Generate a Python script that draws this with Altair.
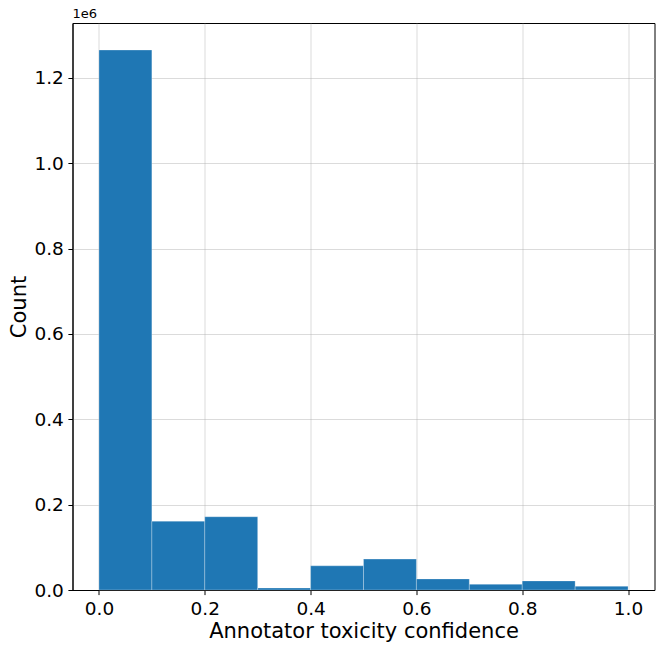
import altair as alt
import pandas as pd

bin_start = [0.0, 0.1, 0.2, 0.3, 0.4, 0.5, 0.6, 0.7, 0.8, 0.9]
bin_end = [0.1, 0.2, 0.3, 0.4, 0.5, 0.6, 0.7, 0.8, 0.9, 1.0]
counts = [1265600, 161400, 171700, 4700, 56700, 72400, 26000, 13400, 21300, 8700]
x_ticks = [0.0, 0.2, 0.4, 0.6, 0.8, 1.0]
y_ticks = [0, 200000, 400000, 600000, 800000, 1000000, 1200000]

df = pd.DataFrame({"start": bin_start, "end": bin_end, "count": counts})

ymax = max(counts) * 1.05

chart = alt.Chart(df).mark_bar(
    color="#1f77b4", stroke="white", strokeOpacity=0.35, strokeWidth=0.8
).encode(
    x=alt.X("start:Q",
            scale=alt.Scale(domain=[-0.05, 1.05], nice=False, zero=False),
            axis=alt.Axis(values=x_ticks, format=".1f", title="Annotator toxicity confidence",
                          titlePadding=3)),
    x2="end:Q",
    y=alt.Y("count:Q",
            scale=alt.Scale(domain=[0, ymax], nice=False),
            axis=alt.Axis(values=y_ticks, labelExpr="format(datum.value / 1e6, '.1f')",
                          title="Count", titlePadding=4)),
    y2=alt.datum(0),
).properties(
    width=582, height=567,
    padding={"left": 64.5, "top": 15, "right": 1, "bottom": 53},
    autosize=alt.AutoSizeParams(type="none"),
    title=alt.Title("1e6", anchor="start", frame="group", fontSize=13, fontWeight="normal",
                    font="DejaVu Sans", offset=2, color="black"),
).configure_axis(
    labelFont="DejaVu Sans", titleFont="DejaVu Sans",
    labelFontSize=18.5, titleFontSize=21, titleFontWeight="normal",
    labelColor="black", titleColor="black",
    domainColor="black", tickColor="black", tickSize=4.6, tickWidth=1,
    gridColor="#b0b0b0", gridOpacity=0.45, gridWidth=1, zindex=1,
    labelPadding=4.6,
).configure_view(stroke="black", strokeWidth=1)

chart.save("out.html", embed_options={"renderer": "svg", "actions": False})
